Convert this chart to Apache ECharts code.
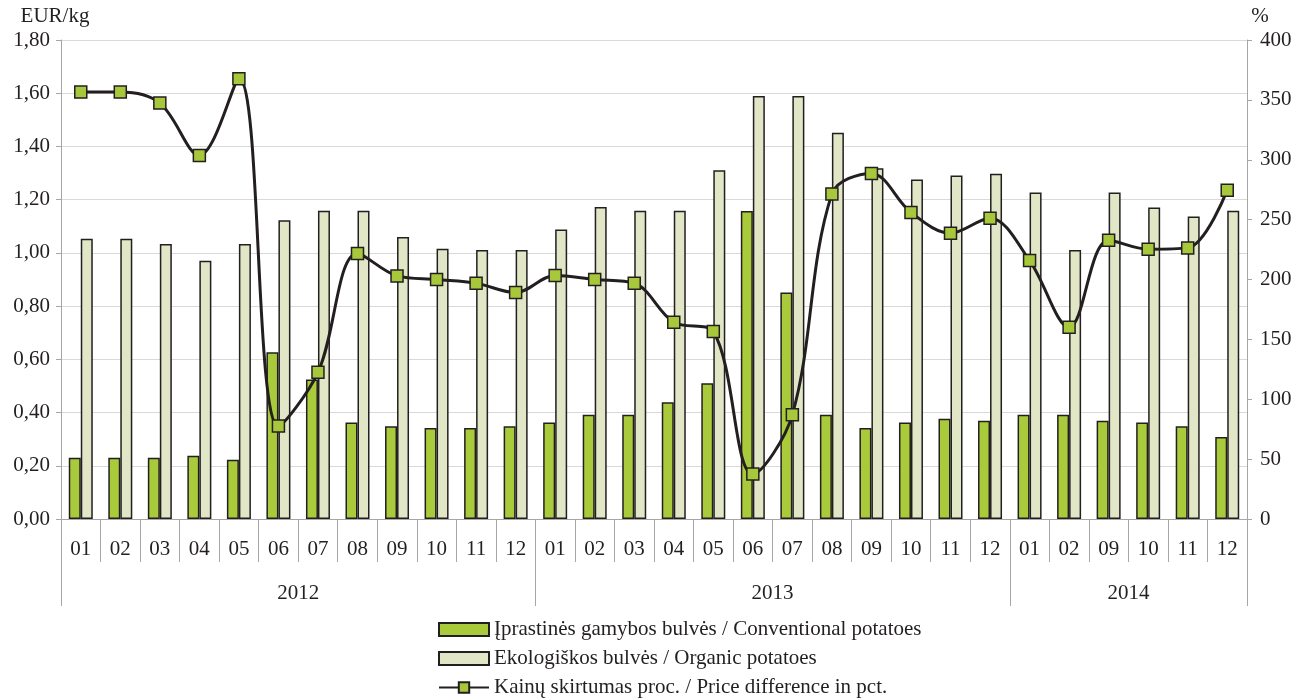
<!DOCTYPE html>
<html>
<head>
<meta charset="utf-8">
<script src="https://cdn.jsdelivr.net/npm/echarts@6/dist/echarts.min.js"></script>
<style>
html,body{margin:0;padding:0;background:#fff;}
#chart{width:1306px;height:699px;}
</style>
</head>
<body>
<div id="chart"></div>
<script>
const months = ['01','02','03','04','05','06','07','08','09','10','11','12',
                '01','02','03','04','05','06','07','08','09','10','11','12',
                '01','02','09','10','11','12'];
const years = ['2012','2013','2014'];
const yearSpans = [12, 12, 6];
const conventional = [0.23,0.23,0.23,0.238,0.223,0.627,0.524,0.363,0.349,0.342,0.342,0.349,
                      0.363,0.392,0.392,0.439,0.510,1.157,0.851,0.392,0.342,0.363,0.377,0.369,
                      0.392,0.392,0.369,0.363,0.349,0.308];
const organic = [1.053,1.053,1.033,0.970,1.033,1.123,1.158,1.158,1.060,1.016,1.011,1.011,
                 1.088,1.172,1.158,1.158,1.311,1.590,1.590,1.451,1.318,1.276,1.291,1.297,
                 1.227,1.011,1.227,1.171,1.137,1.158];
const priceDiff = [356.5,356.5,347.3,303.6,367.7,77.6,122.5,221.7,203.0,200.0,196.9,189.1,
                   203.3,200.0,196.9,164.3,156.5,37.5,87.1,271.5,288.6,256.0,238.7,251.2,
                   215.8,160.1,232.8,225.3,226.4,274.6];
const leftTicks = {min:0, max:1.8, interval:0.2};
const rightTicks = {min:0, max:400, interval:50};

const yearBounds = [0];
yearSpans.forEach(s => yearBounds.push(yearBounds[yearBounds.length-1] + s));
const yearCenters = yearSpans.map((s,i) => yearBounds[i] + s/2);

const font = 'Liberation Serif';
const fs = 21;
const txt = '#231f20';
const axisGray = '#a6a6a6';

const chart = echarts.init(document.getElementById('chart'), null, {renderer:'canvas'});
chart.setOption({
  animation:false,
  textStyle:{fontFamily:font, color:txt},
  grid:{left:61, right:59, top:40, bottom:180},
  legend:{
    orient:'vertical', left:438, top:619, itemGap:8,
    itemWidth:50, itemHeight:13, padding:0,
    textStyle:{fontFamily:font, fontSize:fs, lineHeight:21, color:txt},
    data:[
      {name:'Įprastinės gamybos bulvės / Conventional potatoes', icon:'rect'},
      {name:'Ekologiškos bulvės / Organic potatoes', icon:'rect'},
      {name:'Kainų skirtumas proc. / Price difference in pct.'}
    ]
  },
  xAxis:[
    {
      type:'category', data:months, boundaryGap:true, position:'bottom',
      axisLine:{show:true, lineStyle:{color:axisGray, width:1}},
      axisTick:{show:true, interval:0, length:43, lineStyle:{color:axisGray}},
      axisLabel:{interval:0, margin:20, fontFamily:font, fontSize:fs, color:txt},
      splitLine:{show:false}
    },
    {
      type:'value', min:0, max:yearBounds[yearBounds.length-1], position:'bottom',
      axisLine:{show:false},
      splitLine:{show:false},
      axisTick:{show:true, customValues:yearBounds, length:87, lineStyle:{color:axisGray}},
      axisLabel:{show:true, customValues:yearCenters, margin:64, fontFamily:font, fontSize:fs, color:txt,
        formatter:function(v){ const i = yearCenters.indexOf(v); return i>=0 ? years[i] : ''; }}
    }
  ],
  yAxis:[
    {
      type:'value', min:leftTicks.min, max:leftTicks.max, interval:leftTicks.interval,
      name:'EUR/kg', nameLocation:'end', nameGap:13,
      nameTextStyle:{fontFamily:font, fontSize:fs, color:txt, align:'center', padding:[0,12,0,0]},
      axisLine:{show:true, lineStyle:{color:axisGray}},
      axisTick:{show:true, length:5, lineStyle:{color:axisGray}},
      axisLabel:{margin:11, fontFamily:font, fontSize:fs, color:txt,
        formatter:function(v){ return v.toFixed(2).replace('.', ','); }},
      splitLine:{show:true, lineStyle:{color:'#d9d9d9', width:1.2}}
    },
    {
      type:'value', min:rightTicks.min, max:rightTicks.max, interval:rightTicks.interval,
      name:'%', nameLocation:'end', nameGap:13,
      nameTextStyle:{fontFamily:font, fontSize:fs, color:txt, align:'center', padding:[0,0,0,26]},
      axisLine:{show:true, lineStyle:{color:axisGray}},
      axisTick:{show:true, length:5, lineStyle:{color:axisGray}},
      axisLabel:{margin:13, fontFamily:font, fontSize:fs, color:txt},
      splitLine:{show:false}
    }
  ],
  series:[
    {
      name:'Įprastinės gamybos bulvės / Conventional potatoes',
      type:'bar', xAxisIndex:0, yAxisIndex:0, data:conventional,
      barWidth:12, barGap:'0%',
      itemStyle:{color:'#a9cb3b', borderColor:'#231f20', borderWidth:1.5}
    },
    {
      name:'Ekologiškos bulvės / Organic potatoes',
      type:'bar', xAxisIndex:0, yAxisIndex:0, data:organic,
      barWidth:12, barGap:'0%',
      itemStyle:{color:'#e1e6c6', borderColor:'#231f20', borderWidth:1.5}
    },
    {
      name:'Kainų skirtumas proc. / Price difference in pct.',
      type:'line', xAxisIndex:0, yAxisIndex:1, data:priceDiff,
      smooth:0.35, symbol:'rect', symbolSize:12, z:5,
      lineStyle:{color:'#231f20', width:3},
      itemStyle:{color:'#a6c83a', borderColor:'#231f20', borderWidth:1.5}
    }
  ]
});
</script>
</body>
</html>
